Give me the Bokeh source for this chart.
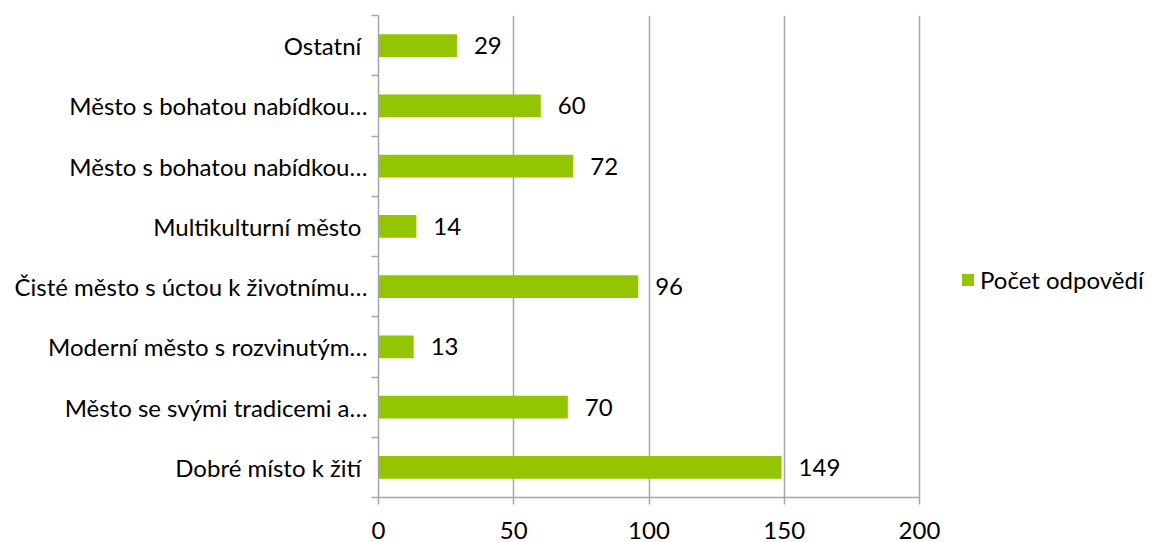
from bokeh.plotting import figure
from bokeh.models import ColumnDataSource, FixedTicker, Legend, LegendItem, Range1d
from bokeh.core.properties import value
from bokeh.embed import file_html
from bokeh.resources import INLINE

categories = [
    "Dobré místo k žití\u00a0",
    "Město se svými tradicemi a…",
    "Moderní město s rozvinutým…",
    "Čisté město s úctou k životnímu…",
    "Multikulturní město\u00a0",
    "Město s bohatou nabídkou…",
    "Město s bohatou nabídkou…",
    "Ostatní\u00a0",
]
counts = [149, 70, 13, 96, 14, 72, 60, 29]
series_name = "Počet odpovědí"
x_ticks = [0, 50, 100, 150, 200]

FONT = "Lato"
FS = "24px"
GREEN = "#93C500"
GRAY = "#A6A6A6"

W, H = 1152, 542
LEFT, TOP, BOTTOM = 378, 15, 45
AXIS_PX = 541  # pixel length of the 0..200 axis
x_end = x_ticks[-1] * (W - LEFT) / AXIS_PX

pos = list(range(len(categories)))
src = ColumnDataSource(dict(y=pos, v=counts, lbl=[str(c) for c in counts]))

p = figure(width=W, height=H, output_backend="svg", toolbar_location=None,
           x_range=Range1d(0, x_end), y_range=Range1d(-0.5, len(categories) - 0.5),
           min_border_left=LEFT, min_border_right=0, min_border_top=TOP, min_border_bottom=BOTTOM)
p.outline_line_color = None
p.background_fill_color = "white"

r = p.hbar(y="y", right="v", left=0, height=0.38, source=src, fill_color=GREEN, line_color=None)
p.text(x="v", y="y", text="lbl", source=src, x_offset=17, text_align="left", text_baseline="middle",
       text_font=value(FONT), text_font_size=FS, text_color="black")

# x axis
p.xaxis.ticker = FixedTicker(ticks=x_ticks)
p.xaxis.bounds = (x_ticks[0], x_ticks[-1])
p.xaxis.axis_line_color = GRAY
p.xaxis.axis_line_width = 1.5
p.xaxis.major_tick_line_color = GRAY
p.xaxis.major_tick_line_width = 1.5
p.xaxis.major_tick_out = 7
p.xaxis.major_tick_in = 0
p.xaxis.minor_tick_line_color = None
p.xaxis.major_label_standoff = 17
p.xaxis.major_label_text_font = FONT
p.xaxis.major_label_text_font_size = FS
p.xaxis.major_label_text_color = "black"

# y axis
p.yaxis.ticker = FixedTicker(ticks=pos, minor_ticks=[i - 0.5 for i in range(len(categories) + 1)])
p.yaxis.major_label_overrides = {i: c for i, c in enumerate(categories)}
p.yaxis.axis_line_color = GRAY
p.yaxis.axis_line_width = 1.5
p.yaxis.major_tick_line_color = None
p.yaxis.major_tick_out = 0
p.yaxis.major_tick_in = 0
p.yaxis.minor_tick_line_color = GRAY
p.yaxis.minor_tick_line_width = 1.5
p.yaxis.minor_tick_out = 7
p.yaxis.minor_tick_in = 0
p.yaxis.major_label_standoff = 4
p.yaxis.major_label_text_font = FONT
p.yaxis.major_label_text_font_size = FS
p.yaxis.major_label_text_color = "black"

p.xgrid.ticker = FixedTicker(ticks=x_ticks)
p.xgrid.grid_line_color = GRAY
p.xgrid.grid_line_width = 1.5
p.ygrid.grid_line_color = None

legend = Legend(items=[LegendItem(label=series_name, renderers=[r])], location=(582, 203),
                margin=0, padding=0, spacing=0, glyph_width=15, glyph_height=15, label_standoff=5,
                label_text_font=FONT, label_text_font_size=FS, label_text_color="black",
                border_line_color=None, background_fill_alpha=0)
p.add_layout(legend, "center")

open("out.html", "w").write(file_html(p, INLINE))
